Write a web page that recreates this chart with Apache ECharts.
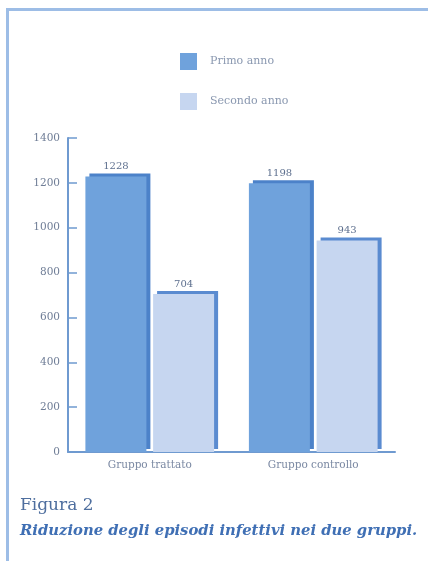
<!DOCTYPE html>
<html>
<head>
<meta charset="utf-8">
<script src="https://cdn.jsdelivr.net/npm/echarts@6/dist/echarts.min.js"></script>
<style>
  html, body { margin: 0; padding: 0; background: #ffffff; }
  #frame {
    position: absolute; left: 6px; top: 8px; right: 0; bottom: 0;
    border-left: 3px solid #9dbde6; border-top: 3px solid #9dbde6;
  }
  #chart { position: absolute; left: 0; top: 0; width: 428px; height: 561px; }
</style>
</head>
<body>
<div id="frame"></div>
<div id="chart"></div>
<script>
// Episodi infettivi per gruppo, primo e secondo anno
const categories = ['Gruppo trattato', 'Gruppo controllo'];
const seriesNames = ['Primo anno', 'Secondo anno'];
const primoAnno = [1228, 1198];
const secondoAnno = [704, 943];
const yTicks = [0, 200, 400, 600, 800, 1000, 1200, 1400];

const serif = '"DejaVu Serif", "Liberation Serif", serif';
const axisBlue = '#6f9ad0';

const chart = echarts.init(document.getElementById('chart'), null, { renderer: 'canvas' });

function barSeries(name, data, face, edge) {
  return {
    name: name,
    type: 'bar',
    data: data,
    barWidth: 61,
    barGap: '11%',
    itemStyle: {
      color: face,
      shadowColor: edge,
      shadowOffsetX: 4,
      shadowOffsetY: -3,
      shadowBlur: 0
    },
    label: {
      show: true,
      position: 'top',
      distance: 5,
      fontFamily: serif,
      fontSize: 10,
      color: '#5d6f8e'
    }
  };
}

chart.setOption({
  animation: false,
  backgroundColor: 'transparent',
  title: [
    {
      text: 'Figura 2',
      left: 20, top: 497, padding: 0,
      textStyle: { fontFamily: serif, fontSize: 17, fontWeight: 'normal', color: '#4f6f9f' }
    },
    {
      text: 'Riduzione degli episodi infettivi nei due gruppi.',
      left: 20, top: 524, padding: 0,
      textStyle: { fontFamily: serif, fontSize: 14.8, fontStyle: 'italic', fontWeight: 'bold', color: '#3f6fb4' }
    }
  ],
  legend: {
    orient: 'vertical',
    left: 175, top: 48,
    icon: 'rect',
    itemWidth: 17, itemHeight: 17,
    itemGap: 23,
    data: seriesNames,
    textStyle: { fontFamily: serif, fontSize: 11, color: '#8a98b0', padding: [0, 0, 0, 8] }
  },
  grid: { left: 68, right: 33, top: 138, bottom: 109 },
  xAxis: {
    type: 'category',
    data: categories,
    axisLine: { lineStyle: { color: axisBlue, width: 2 } },
    axisTick: { inside: true, length: 7, lineStyle: { color: axisBlue, width: 1.5 } },
    axisLabel: { fontFamily: serif, fontSize: 10.5, color: '#7a88a2', margin: 8 }
  },
  yAxis: {
    type: 'value',
    min: 0, max: 1400, interval: 200,
    axisLine: { show: true, lineStyle: { color: axisBlue, width: 2 } },
    axisTick: { show: true, inside: true, length: 9, lineStyle: { color: axisBlue, width: 1.5 } },
    splitLine: { show: false },
    axisLabel: {
      fontFamily: serif, fontSize: 10.5, color: '#6f7d96', margin: 8,
      formatter: v => yTicks.includes(v) ? String(v) : ''
    }
  },
  series: [
    barSeries(seriesNames[0], primoAnno, '#6fa2dc', '#4c82c9'),
    barSeries(seriesNames[1], secondoAnno, '#c6d6f0', '#5a8bd0')
  ]
});
</script>
</body>
</html>
